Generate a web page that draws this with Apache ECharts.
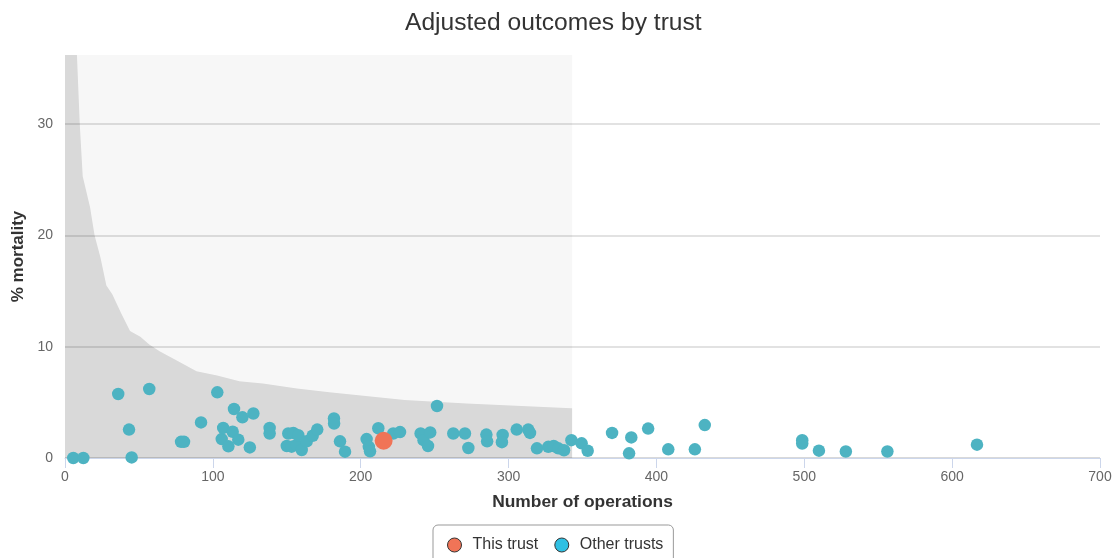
<!DOCTYPE html>
<html>
<head>
<meta charset="utf-8">
<title>Adjusted outcomes by trust</title>
<script src="https://cdn.jsdelivr.net/npm/echarts@6/dist/echarts.min.js"></script>
<style>
  html, body { margin: 0; padding: 0; background: #fff; }
  #chart { width: 1117px; height: 558px; }
</style>
</head>
<body>
<div id="chart"></div>
<script>
// Other trusts: number of operations and adjusted % mortality
const otherOps = [
  5.6, 12.4, 36, 43.3, 45.1, 57, 78.5, 80.5, 92, 103,
  106, 107, 110.5, 113.4, 114.3, 117.2, 120, 125, 127.4, 138.4,
  138.4, 150, 151, 153.3, 154.4, 156.7, 157.8, 160.1, 163.5, 167.5,
  170.6, 181.9, 182, 186, 189.4, 204, 205.5, 206.3, 211.9, 222,
  226.6, 240.5, 242.5, 245.5, 247, 251.6, 262.6, 270.5, 272.8, 285,
  285.5, 296, 295.5, 305.5, 313.3, 314.5, 319.2, 326.9, 330.5, 333.6,
  337.5, 342.5, 349.4, 353.5, 370, 383, 381.5, 394.4, 408, 426,
  432.7, 498.6, 498.6, 509.9, 528.1, 556.2, 616.8
]
const otherMortality = [
  0.0, 0.0, 5.75, 2.55, 0.05, 6.2, 1.45, 1.45, 3.2, 5.9,
  1.7, 2.7, 1.05, 2.36, 4.4, 1.65, 3.65, 0.95, 4.0, 2.7,
  2.2, 1.08, 2.2, 1.02, 2.25, 1.17, 2.05, 0.72, 1.5, 2.0,
  2.55, 3.55, 3.1, 1.5, 0.57, 1.7, 1.0, 0.6, 2.67, 2.2,
  2.33, 2.2, 1.6, 1.08, 2.3, 4.67, 2.2, 2.2, 0.9, 2.1,
  1.5, 2.07, 1.42, 2.55, 2.55, 2.25, 0.87, 1.0, 1.08, 0.87,
  0.7, 1.6, 1.32, 0.65, 2.25, 1.85, 0.42, 2.64, 0.78, 0.78,
  2.96, 1.6, 1.3, 0.66, 0.58, 0.58, 1.2
]

// This trust
const thisOps = [215.5]
const thisMortality = [1.55]

// Upper control limit (funnel) shown as the dark grey area
const limitOps = [0, 8, 10, 12, 17, 20, 24, 28, 32, 38, 44, 51, 57, 64, 75, 89, 103, 118, 134, 157, 179, 202, 230, 272, 343]
const limitMortality = [100, 36.5, 30, 25.3, 22.5, 20, 18, 15.5, 14.7, 13, 11.4, 10.9, 10.2, 9.6, 8.8, 7.8, 7.4, 6.9, 6.7, 6.25, 5.9, 5.6, 5.2, 4.9, 4.47]

// Light grey band covers the range of the funnel
const bandStart = 0
const bandEnd = 343

const xMax = 700
const yMax = 36.2

const font = 'Liberation Sans, Arial, sans-serif'

const toPairs = (xs, ys) => xs.map((x, i) => [x, ys[i]])

const chart = echarts.init(document.getElementById('chart'))

const option = {
  animation: false,
  textStyle: { fontFamily: font },
  title: {
    text: 'Adjusted outcomes by trust',
    left: 405,
    top: 11,
    padding: 0,
    textStyle: { fontSize: 24.6, fontWeight: 'normal', color: '#333', fontFamily: font }
  },
  legend: {
    left: 433,
    top: 525,
    padding: [12, 10, 12, 14],
    itemWidth: 26,
    itemHeight: 14,
    itemGap: 16,
    borderColor: '#999',
    borderWidth: 1,
    borderRadius: 5,
    textStyle: { fontSize: 16, color: '#333', fontFamily: font },
    data: [
      { name: 'This trust', icon: 'circle', itemStyle: { color: '#f07457', borderColor: '#333', borderWidth: 1 } },
      { name: 'Other trusts', icon: 'circle', itemStyle: { color: '#2fc0e3', borderColor: '#333', borderWidth: 1 } }
    ]
  },
  grid: {
    left: 65,
    right: 17,
    top: 55,
    bottom: 100
  },
  xAxis: {
    type: 'value',
    min: 0,
    max: xMax,
    interval: 100,
    offset: 5,
    name: 'Number of operations',
    nameLocation: 'middle',
    nameGap: 31,
    nameTextStyle: { fontSize: 17.4, fontWeight: 'bold', color: '#333', fontFamily: font },
    axisLine: { show: true, lineStyle: { color: '#ccd6eb', width: 1 } },
    axisTick: { show: true, length: 10, lineStyle: { color: '#ccd6eb' } },
    axisLabel: { fontSize: 14, color: '#666', margin: 7, fontFamily: font },
    splitLine: { show: false }
  },
  yAxis: {
    type: 'value',
    min: 0,
    max: yMax,
    interval: 10,
    name: '% mortality',
    nameLocation: 'middle',
    nameGap: 38,
    nameRotate: 90,
    nameTextStyle: { fontSize: 17, fontWeight: 'bold', color: '#333', fontFamily: font },
    axisLine: { show: false },
    axisTick: { show: false },
    axisLabel: { fontSize: 14, color: '#666', margin: 12, showMaxLabel: false, fontFamily: font },
    splitLine: {
      show: true,
      lineStyle: { color: ['#cccccc', '#d8d8d8', '#d8d8d8', '#d8d8d8', 'rgba(0,0,0,0)'], width: 1.6 }
    }
  },
  series: [
    {
      name: 'Limit',
      type: 'line',
      data: toPairs(limitOps, limitMortality),
      symbol: 'none',
      silent: true,
      clip: true,
      z: 1,
      lineStyle: { width: 0 },
      areaStyle: { color: 'rgba(0,0,0,0.12)', opacity: 1 },
      markArea: {
        silent: true,
        itemStyle: { color: 'rgba(0,0,0,0.03)' },
        data: [[{ xAxis: bandStart }, { xAxis: bandEnd }]]
      }
    },
    {
      name: 'Other trusts',
      type: 'scatter',
      data: toPairs(otherOps, otherMortality),
      symbolSize: 12.5,
      z: 3,
      itemStyle: { color: '#4db3c2', opacity: 1 }
    },
    {
      name: 'This trust',
      type: 'scatter',
      data: toPairs(thisOps, thisMortality),
      symbolSize: 18,
      z: 4,
      itemStyle: { color: '#f07457', opacity: 1 }
    }
  ]
}

chart.setOption(option)
</script>
</body>
</html>
